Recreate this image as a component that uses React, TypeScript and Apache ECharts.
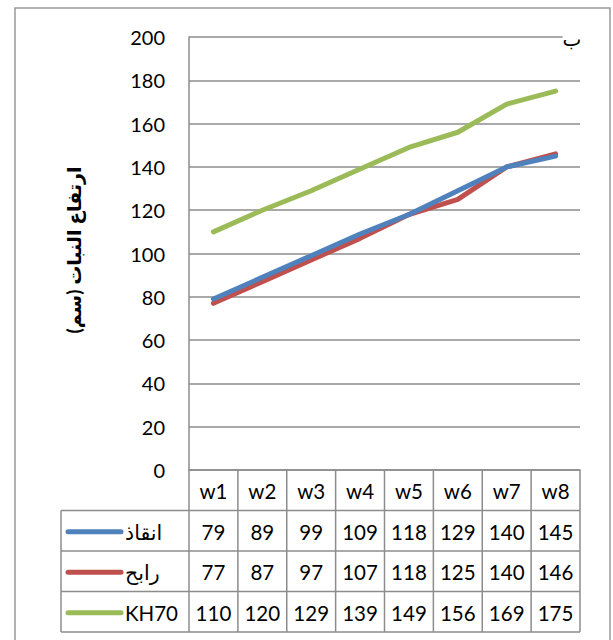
import React, { useEffect, useRef } from "react";
import * as echarts from "echarts";

const weeks = ["w1", "w2", "w3", "w4", "w5", "w6", "w7", "w8"];
const seriesNames = ["انقاذ", "رابح", "KH70"];
const enqaz = [79, 89, 99, 109, 118, 129, 140, 145];
const rabeh = [77, 87, 97, 107, 118, 125, 140, 146];
const kh70 = [110, 120, 129, 139, 149, 156, 169, 175];
const colors = ["#4F81BD", "#C0504D", "#9BBB59"];
const yTicks = { min: 0, max: 200, interval: 20 };

const FONT = "Lato, 'Noto Sans', 'DejaVu Sans', sans-serif";
const GRID = { left: 189, right: 33, top: 37, bottom: 170 };
const ROW_H = 40.5;
const LEGEND_LEFT = 61;
const LINE_GRAY = "#8c8c8c";

export default function App() {
  const ref = useRef<HTMLDivElement>(null);

  useEffect(() => {
    if (!ref.current) return;
    const chart = echarts.init(ref.current, undefined, { renderer: "svg" });
    const values = [enqaz, rabeh, kh70];

    chart.setOption({
      animation: false,
      backgroundColor: "#ffffff",
      grid: { ...GRID, containLabel: false },
      xAxis: {
        type: "category",
        data: weeks,
        boundaryGap: true,
        axisLine: { show: true, lineStyle: { color: LINE_GRAY, width: 1.5 } },
        axisTick: { show: false },
        axisLabel: { show: false },
      },
      yAxis: {
        type: "value",
        ...yTicks,
        axisLine: { show: true, lineStyle: { color: LINE_GRAY, width: 1.5 } },
        axisTick: { show: false },
        splitLine: { show: true, lineStyle: { color: LINE_GRAY, width: 1.5 } },
        axisLabel: { color: "#000", fontSize: 20, fontFamily: FONT, margin: 24 },
      },
      series: values.map((v, i) => ({
        type: "line",
        name: seriesNames[i],
        data: v,
        showSymbol: false,
        symbol: "none",
        lineStyle: { color: colors[i], width: 5, cap: "round", join: "round" },
        z: 3 - i,
      })),
    });

    // data table under the plot, aligned to the category axis
    const centers = weeks.map((w) => chart.convertToPixel({ xAxisIndex: 0 }, w) as number);
    const half = (centers[1] - centers[0]) / 2;
    const left = centers[0] - half;
    const right = centers[centers.length - 1] + half;
    const top = 640 - GRID.bottom;
    const rowY = (r: number) => top + r * ROW_H;
    const bottom = rowY(4);

    const g: any[] = [];
    const line = (x1: number, y1: number, x2: number, y2: number) =>
      g.push({
        type: "line",
        shape: { x1, y1, x2, y2 },
        style: { stroke: LINE_GRAY, lineWidth: 1.5 },
        z: 10,
      });

    for (let r = 1; r <= 4; r++) line(LEGEND_LEFT, rowY(r), right, rowY(r));
    line(LEGEND_LEFT, rowY(1), LEGEND_LEFT, bottom);
    line(left, top, left, bottom);
    centers.forEach((c) => line(c + half, top, c + half, bottom));

    const cellText = (text: string, x: number, y: number, align = "center") =>
      g.push({
        type: "text",
        x,
        y,
        style: {
          text,
          fill: "#000",
          font: `20.5px ${FONT}`,
          align,
          verticalAlign: "middle",
        },
        z: 10,
      });

    weeks.forEach((w, i) => cellText(w, centers[i], rowY(0) + ROW_H / 2 + 1));
    values.forEach((vals, r) => {
      const cy = rowY(r + 1) + ROW_H / 2 + 1;
      vals.forEach((v, i) => cellText(String(v), centers[i], cy));
      g.push({
        type: "line",
        shape: { x1: 68, y1: cy, x2: 121, y2: cy },
        style: { stroke: colors[r], lineWidth: 5, lineCap: "round" },
        z: 10,
      });
      cellText(seriesNames[r], 125, cy, "left");
    });

    // outer frame, axis title and panel letter
    g.push({
      type: "rect",
      shape: { x: 15, y: 8, width: 595, height: 660 },
      style: { fill: "none", stroke: "#999", lineWidth: 1.5 },
      z: 1,
    });
    g.push({
      type: "text",
      x: 73,
      y: 250,
      rotation: Math.PI / 2,
      style: {
        text: "ارتفاع النبات (سم)",
        fill: "#000",
        font: `bold 19px ${FONT}`,
        align: "center",
        verticalAlign: "middle",
      },
      z: 10,
    });
    g.push({
      type: "text",
      x: 572,
      y: 38,
      style: {
        text: "ب",
        fill: "#000",
        font: `20px ${FONT}`,
        align: "center",
        verticalAlign: "middle",
        backgroundColor: "#fff",
      },
      z: 10,
    });

    chart.setOption({ graphic: g });

    return () => chart.dispose();
  }, []);

  return (
    <div
      ref={ref}
      style={{ position: "fixed", left: 0, top: 0, width: 613, height: 640 }}
    />
  );
}
